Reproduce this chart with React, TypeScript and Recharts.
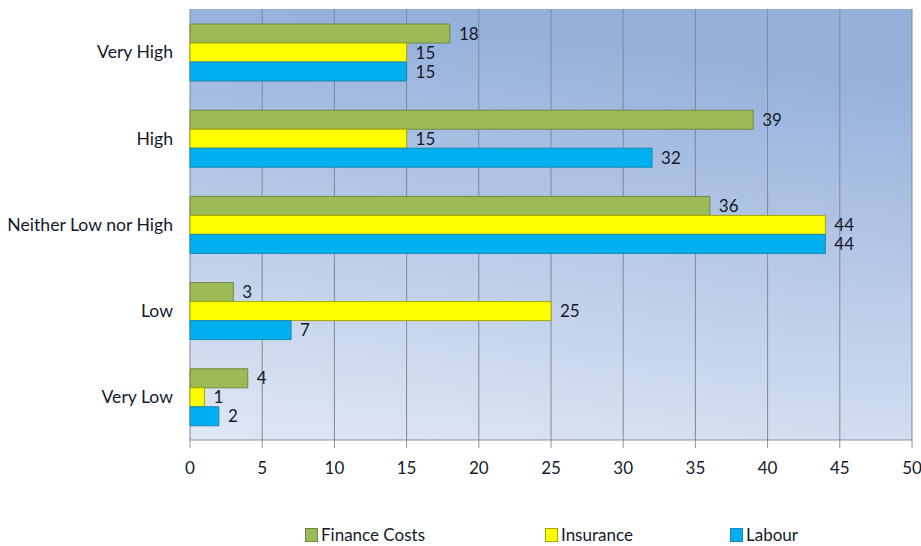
import React from 'react';
import { BarChart, Bar, XAxis, YAxis, CartesianGrid, LabelList } from 'recharts';

const categories = ['Very High', 'High', 'Neither Low nor High', 'Low', 'Very Low'];
const financeCosts = [18, 39, 36, 3, 4];
const insurance = [15, 15, 44, 25, 1];
const labour = [15, 32, 44, 7, 2];
const xTicks = [0, 5, 10, 15, 20, 25, 30, 35, 40, 45, 50];

const data = categories.map((name, i) => ({
  name,
  finance: financeCosts[i],
  insurance: insurance[i],
  labour: labour[i],
}));

const FONT = 'Lato, "Open Sans", sans-serif';
const TEXT = '#141a2a';

const legendItems = [
  { label: 'Finance Costs', color: '#9bbb59', stroke: '#71893f', left: 305 },
  { label: 'Insurance', color: '#ffff00', stroke: '#a6a600', left: 545 },
  { label: 'Labour', color: '#00b0f0', stroke: '#1b88b0', left: 730 },
];

export default function App() {
  return (
    <div style={{ position: 'absolute', left: 0, top: 0, width: 921, height: 546, background: '#fff' }}>
      <BarChart
        width={921}
        height={546}
        data={data}
        layout="vertical"
        margin={{ top: 9, right: 9, left: 0, bottom: 66 }}
        barGap={0}
      >
        <defs>
          <linearGradient id="plotBg" x1="0.2" y1="0" x2="0" y2="1">
            <stop offset="0%" stopColor="#94b1dc" />
            <stop offset="100%" stopColor="#dfe7f4" />
          </linearGradient>
        </defs>
        <CartesianGrid horizontal={false} stroke="#7f8896" fill="url(#plotBg)" fillOpacity={1} />
        <XAxis
          type="number"
          domain={[0, 50]}
          ticks={xTicks}
          interval={0}
          height={40}
          tickSize={8}
          tickMargin={14}
          stroke="#8c929c"
          tick={{ fill: TEXT, fontSize: 17, fontFamily: FONT }}
        />
        <YAxis
          yAxisId="cat"
          type="category"
          dataKey="name"
          width={190}
          axisLine={false}
          tickLine={false}
          tickMargin={11}
          tick={{ fill: TEXT, fontSize: 17.6, fontFamily: FONT }}
        />
        <YAxis
          yAxisId="marks"
          type="number"
          domain={[0, 5]}
          ticks={[0, 1, 2, 3, 4, 5]}
          width={0}
          tick={false}
          tickSize={6}
          stroke="#8c929c"
        />
        <Bar yAxisId="cat" dataKey="finance" name="Finance Costs" fill="#9bbb59" stroke="#71893f" barSize={19} isAnimationActive={false}>
          <LabelList dataKey="finance" position="right" offset={9} fill={TEXT} fontSize={17} fontFamily={FONT} />
        </Bar>
        <Bar yAxisId="cat" dataKey="insurance" name="Insurance" fill="#ffff00" stroke="#a6a600" barSize={19} isAnimationActive={false}>
          <LabelList dataKey="insurance" position="right" offset={9} fill={TEXT} fontSize={17} fontFamily={FONT} />
        </Bar>
        <Bar yAxisId="cat" dataKey="labour" name="Labour" fill="#00b0f0" stroke="#1b88b0" barSize={19} isAnimationActive={false}>
          <LabelList dataKey="labour" position="right" offset={9} fill={TEXT} fontSize={17} fontFamily={FONT} />
        </Bar>
      </BarChart>
      {legendItems.map((it) => (
        <div
          key={it.label}
          style={{
            position: 'absolute',
            left: it.left,
            top: 524,
            display: 'flex',
            alignItems: 'center',
            fontFamily: FONT,
            fontSize: 17,
            color: TEXT,
          }}
        >
          <span
            style={{
              display: 'inline-block',
              width: 11,
              height: 12,
              background: it.color,
              border: `1px solid ${it.stroke}`,
              marginRight: 3,
            }}
          />
          {it.label}
        </div>
      ))}
    </div>
  );
}
